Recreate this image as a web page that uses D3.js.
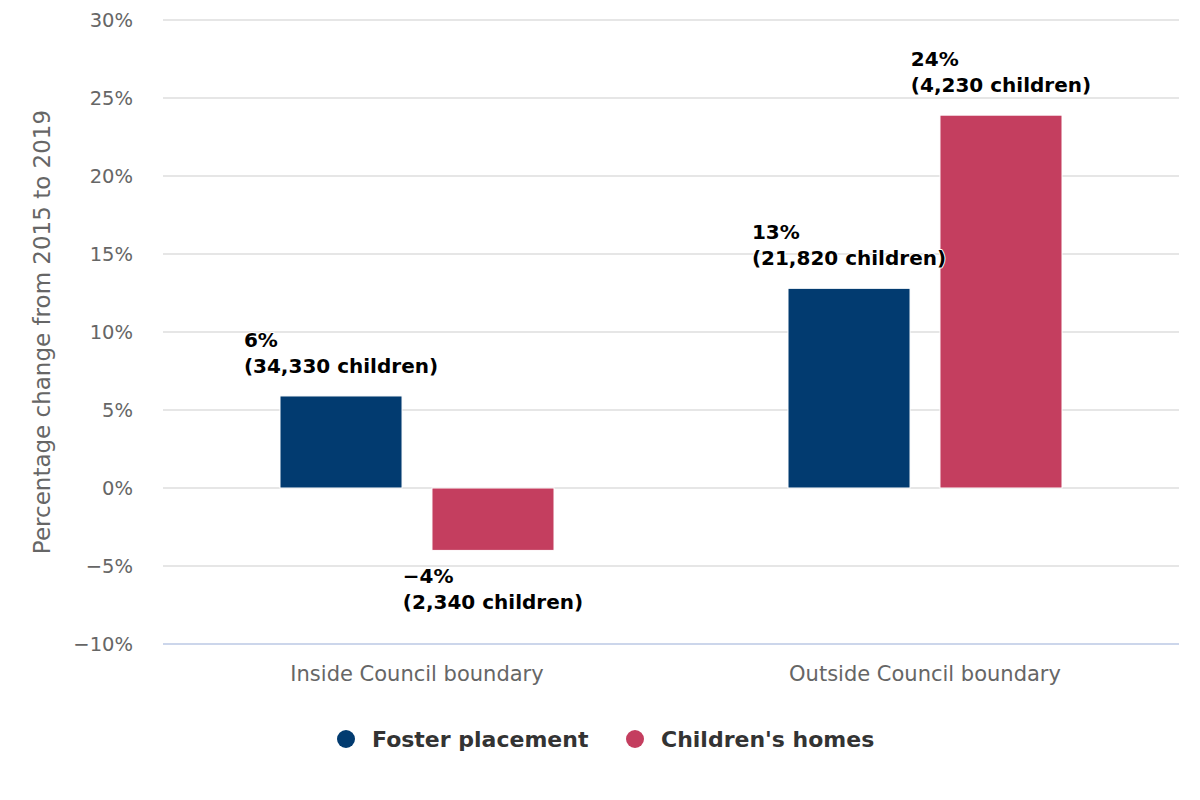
<!DOCTYPE html>
<html>
<head>
	<meta charset="utf-8">
	<title>Placements inside and outside Council boundary</title>
	<script src="https://d3js.org/d3.v7.min.js"></script>
	<style>
		body { margin: 0; background: #fff; }
		svg { font-family: "DejaVu Sans", Verdana, sans-serif; }
	</style>
</head>
<body>
	<svg width="1200" height="800"></svg>

	<script>
	// data
	var categories = ["Inside Council boundary", "Outside Council boundary"];
	var series = ["Foster placement", "Children's homes"];
	var fosterValues = [5.9, 12.8];
	var homesValues = [-4.0, 23.9];
	var fosterChildren = ["34,330", "21,820"];
	var homesChildren = ["2,340", "4,230"];
	var labelPct = [["6%", "13%"], ["\u22124%", "24%"]];
	var yTicks = [-10, -5, 0, 5, 10, 15, 20, 25, 30];
	var colours = ["#023b70", "#c43e5f"];

	var svg = d3.select("svg");

	//----------------------SCALES---------------------------------------------
	var y = d3.scaleLinear().domain([-10, 30]).range([644, 20]);
	var x0 = d3.scaleBand().domain(categories).range([163, 1179]);
	var x1 = d3.scaleBand().domain(series).range([117, 391]).paddingInner(0.197);

	//----------------------GRID + AXES----------------------------------------
	svg.append("g")
		.selectAll("line")
		.data(yTicks)
		.enter().append("line")
		.attr("x1", 163).attr("x2", 1179)
		.attr("y1", function(d) { return Math.round(y(d)); })
		.attr("y2", function(d) { return Math.round(y(d)); })
		.attr("stroke", function(d) { return d === -10 ? "#ccd6eb" : "#e6e6e6"; })
		.attr("stroke-width", 2);

	var yAxis = svg.append("g")
		.attr("transform", "translate(133,0)")
		.call(d3.axisLeft(y).tickValues(yTicks).tickSize(0).tickPadding(0)
			.tickFormat(function(d) { return (d < 0 ? "\u2212" + (-d) : d) + "%"; }));
	yAxis.select(".domain").remove();
	yAxis.selectAll("text")
		.attr("font-size", "19.5px")
		.attr("fill", "#666")
		.attr("font-family", "DejaVu Sans, sans-serif");

	var xAxis = svg.append("g")
		.attr("transform", "translate(0,644)")
		.call(d3.axisBottom(x0).tickSize(0).tickPadding(0));
	xAxis.select(".domain").remove();
	xAxis.selectAll("text")
		.attr("dy", 37)
		.attr("font-size", "21px")
		.attr("fill", "#666")
		.attr("font-family", "DejaVu Sans, sans-serif");

	svg.append("text")
		.attr("transform", "translate(50,332) rotate(-90)")
		.attr("text-anchor", "middle")
		.attr("font-size", "23px")
		.attr("fill", "#666")
		.text("Percentage change from 2015 to 2019");

	//----------------------BARS-----------------------------------------------
	var rows = [];
	categories.forEach(function(c, i) {
		rows.push({ cat: c, s: 0, v: fosterValues[i], n: fosterChildren[i], p: labelPct[0][i] });
		rows.push({ cat: c, s: 1, v: homesValues[i], n: homesChildren[i], p: labelPct[1][i] });
	});

	svg.append("g")
		.selectAll("rect")
		.data(rows)
		.enter().append("rect")
		.attr("x", function(d) { return x0(d.cat) + x1(series[d.s]); })
		.attr("width", x1.bandwidth())
		.attr("y", function(d) { return Math.min(y(d.v), y(0)); })
		.attr("height", function(d) { return Math.abs(y(d.v) - y(0)); })
		.attr("fill", function(d) { return colours[d.s]; })
		.attr("stroke", "#fff")
		.attr("stroke-width", 1);

	//----------------------DATA LABELS----------------------------------------
	var labels = svg.append("g")
		.selectAll("text")
		.data(rows)
		.enter().append("text")
		.attr("font-size", "20px")
		.attr("font-weight", "bold")
		.attr("fill", "#000")
		.attr("stroke", "#fff")
		.attr("stroke-width", 2)
		.attr("stroke-linejoin", "round")
		.attr("paint-order", "stroke");

	labels.each(function(d) {
		var t = d3.select(this);
		var first = d.v >= 0 ? y(d.v) - 49 : y(d.v) + 33;
		t.append("tspan").attr("y", first).text(d.p);
		t.append("tspan").attr("y", first + 26).text("(" + d.n + " children)");
		var w = d3.max(t.selectAll("tspan").nodes(), function(n) { return n.getComputedTextLength(); });
		var left = x0(d.cat) + x1(series[d.s]) + x1.bandwidth() / 2 - w / 2;
		t.selectAll("tspan").attr("x", left);
	});

	//----------------------LEGEND---------------------------------------------
	var legendX = [346, 635];
	var legend = svg.append("g")
		.selectAll("g")
		.data(series)
		.enter().append("g")
		.attr("transform", function(d, i) { return "translate(" + legendX[i] + ",739)"; });
	legend.append("circle")
		.attr("r", 9)
		.attr("fill", function(d, i) { return colours[i]; });
	legend.append("text")
		.attr("x", 26)
		.attr("y", 8)
		.attr("font-size", "22px")
		.attr("font-weight", "bold")
		.attr("fill", "#333")
		.text(function(d) { return d; });
	</script>
</body>
</html>
